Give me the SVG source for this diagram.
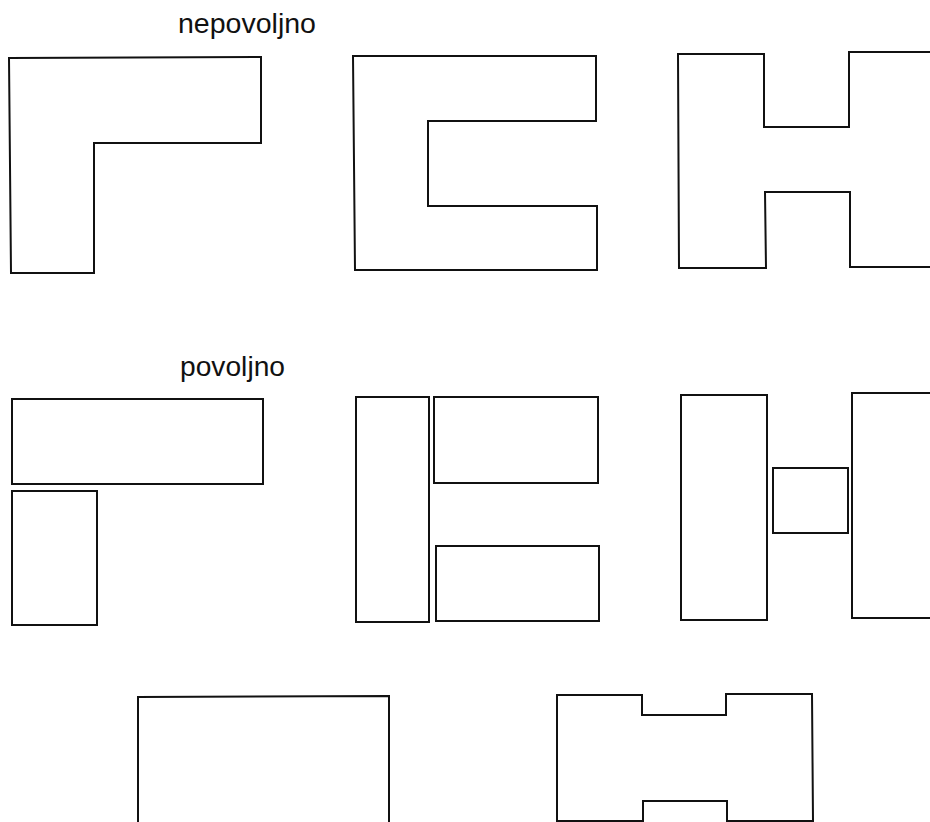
<svg xmlns="http://www.w3.org/2000/svg" width="930" height="822" viewBox="0 0 930 822">
<style>
.s{fill:none;stroke:#111;stroke-width:2;stroke-linejoin:miter}
.t{font-family:"Liberation Sans",Arial,sans-serif;fill:#111;font-size:27px}
</style>
<rect width="930" height="822" fill="#fff"/>
<text class="t" x="178" y="33" textLength="138" lengthAdjust="spacingAndGlyphs">nepovoljno</text>
<text class="t" x="180" y="376" textLength="105" lengthAdjust="spacingAndGlyphs">povoljno</text>
<g id="bad-L"><polygon class="s" points="9,58 261,57 261,143 94,143 94,273 11,273"/></g>
<g id="bad-C"><polygon class="s" points="353,56 596,56 596,121 428,121 428,206 597,206 597,270 355,270"/></g>
<g id="bad-H"><polygon class="s" points="678,54 764,54 764,127 849,127 849,52 940,52 940,267 850,267 850,192 765,192 766,268 679,268"/></g>
<g id="good-L">
<rect class="s" x="12" y="399" width="251" height="85"/>
<rect class="s" x="12" y="491" width="85" height="134"/>
</g>
<g id="good-C">
<rect class="s" x="356" y="397" width="73" height="225"/>
<rect class="s" x="434" y="397" width="164" height="86"/>
<rect class="s" x="436" y="546" width="163" height="75"/>
</g>
<g id="good-H">
<rect class="s" x="681" y="395" width="86" height="225"/>
<rect class="s" x="773" y="468" width="75" height="65"/>
<rect class="s" x="852" y="393" width="90" height="225"/>
</g>
<g id="rect-bottom"><polygon class="s" points="138,697 389,696 389,830 138,830"/></g>
<g id="h-bottom"><polygon class="s" points="557,695 642,695 642,715 726,715 726,694 812,694 813,821 727,821 727,801 643,801 643,821 557,821"/></g>
</svg>
